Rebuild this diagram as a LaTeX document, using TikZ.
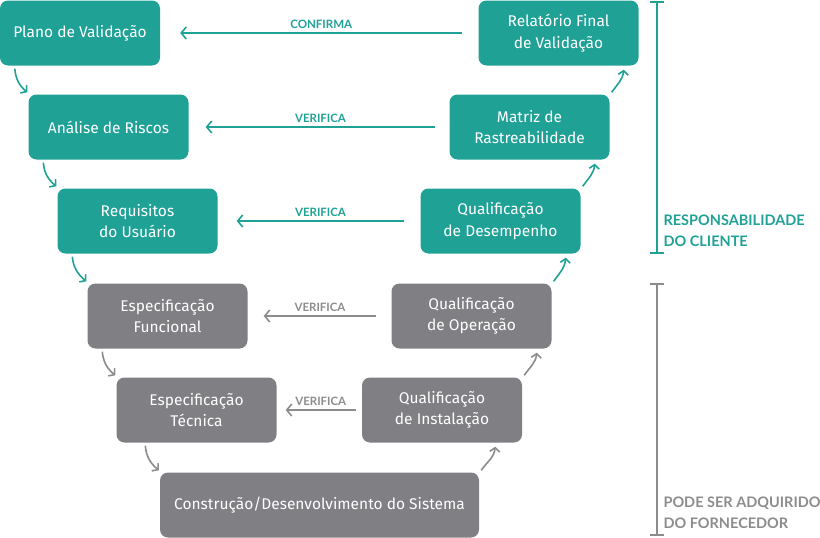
\documentclass[tikz,border=0pt]{standalone}
\usepackage{fontspec}
\setmainfont{Fira Sans}
\newfontfamily\labfont{Lato}
\usetikzlibrary{arrows.meta,calc}
\definecolor{teal1}{RGB}{31,161,150}
\definecolor{grayb}{RGB}{128,127,132}
\definecolor{graya}{RGB}{140,140,140}
\tikzset{
  boxbase/.style={rounded corners=8pt, minimum width=160pt, minimum height=65pt, inner sep=0pt, align=center, text=white, font=\fontsize{15.5}{21.5}\selectfont},
  tealbox/.style={boxbase, fill=teal1},
  graybox/.style={boxbase, fill=grayb},
  harr/.style={line width=1.6pt, -{Straight Barb[length=5pt,width=12pt,line width=1.6pt]}},
  carr/.style={line width=1.6pt, -{Straight Barb[length=4pt,width=10pt,line width=1.6pt]}},
  lab/.style={font=\labfont\bfseries\fontsize{11.5}{13}\selectfont, above=0pt},
  brk/.style={line width=2.5pt},
  brktext/.style={anchor=west, align=left, font=\labfont\bfseries\fontsize{14.5}{21}\selectfont}
}
\begin{document}
\begin{tikzpicture}[x=1pt,y=-1pt]
\useasboundingbox (0,0) rectangle (820,538);
% left chain
\node[tealbox] (P) at (80,33) {Plano de Validação};
\node[tealbox] (A) at (108.5,127) {Análise de Riscos};
\node[tealbox] (R) at (137.5,221) {Requisitos\\do Usuário};
\node[graybox] (EF) at (167.5,316) {Especificação\\Funcional};
\node[graybox] (ET) at (196.5,410) {Especificação\\Técnica};
\node[graybox, minimum width=319pt] (C) at (319.5,505) {Construção/Desenvolvimento do Sistema};
% right chain
\node[tealbox] (RF) at (558.5,33) {Relatório Final\\de Validação};
\node[tealbox] (M) at (529.5,127) {Matriz de\\Rastreabilidade};
\node[tealbox] (QD) at (500.5,221) {Qualificação\\de Desempenho};
\node[graybox] (QO) at (471.5,316) {Qualificação\\de Operação};
\node[graybox] (QI) at (442,410) {Qualificação\\de Instalação};
% horizontal arrows
\draw[harr, teal1] ([xshift=-16pt]RF.west) -- node[lab, text=teal1]{CONFIRMA} ([xshift=20pt]P.east);
\draw[harr, teal1] ([xshift=-14pt]M.west) -- node[lab, text=teal1]{VERIFICA} ([xshift=17pt]A.east);
\draw[harr, teal1] ([xshift=-16pt]QD.west) -- node[lab, text=teal1]{VERIFICA} ([xshift=19pt]R.east);
\draw[harr, graya] ([xshift=-15pt]QO.west) -- node[lab, text=graya]{VERIFICA} ([xshift=16pt]EF.east);
\draw[harr, graya] ([xshift=-6pt]QI.west) -- node[lab, text=graya]{VERIFICA} ([xshift=9pt]ET.east);
% left curved arrows
\draw[carr, teal1] ($(P.south west)+(15,3)$) to[out=-85, in=140] ($(A.north west)+(-1,-2)$);
\draw[carr, teal1] ($(A.south west)+(15,3)$) to[out=-85, in=140] ($(R.north west)+(-1,-2)$);
\draw[carr, teal1] ($(R.south west)+(15,3)$) to[out=-85, in=140] ($(EF.north west)+(-1,-2)$);
\draw[carr, graya] ($(EF.south west)+(15,3)$) to[out=-85, in=140] ($(ET.north west)+(-1,-2)$);
\draw[carr, graya] ($(ET.south west)+(29,3)$) to[out=-85, in=140] ($(C.north west)+(-1,-2)$);
% right curved arrows
\draw[carr, graya] ($(C.north east)+(2,-2)$) to[out=55, in=-95] ($(QI.south east)+(-27,4)$);
\draw[carr, graya] ($(QI.north east)+(2,-2)$) to[out=55, in=-95] ($(QO.south east)+(-15,4)$);
\draw[carr, teal1] ($(QO.north east)+(2,-2)$) to[out=55, in=-95] ($(QD.south east)+(-15,4)$);
\draw[carr, teal1] ($(QD.north east)+(2,-2)$) to[out=55, in=-95] ($(M.south east)+(-15,4)$);
\draw[carr, teal1] ($(M.north east)+(2,-2)$) to[out=55, in=-95] ($(RF.south east)+(-15,4)$);
% brackets
\coordinate (b1t) at (657,2);
\coordinate (b1b) at (657,253);
\draw[brk, teal1] (b1t) -- (b1b);
\draw[brk, teal1] ($(b1t)+(-7,0)$) -- ($(b1t)+(7,0)$);
\draw[brk, teal1] ($(b1b)+(-7,0)$) -- ($(b1b)+(7,0)$);
\node[brktext, text=teal1] (t1) at (660,231) {RESPONSABILIDADE\\DO CLIENTE};
\coordinate (b2t) at (657,284);
\coordinate (b2b) at (657,535);
\draw[brk, graya] (b2t) -- (b2b);
\draw[brk, graya] ($(b2t)+(-7,0)$) -- ($(b2t)+(7,0)$);
\draw[brk, graya] ($(b2b)+(-7,0)$) -- ($(b2b)+(7,0)$);
\node[brktext, text=graya] (t2) at (660,513) {PODE SER ADQUIRIDO\\DO FORNECEDOR};
\end{tikzpicture}
\end{document}
